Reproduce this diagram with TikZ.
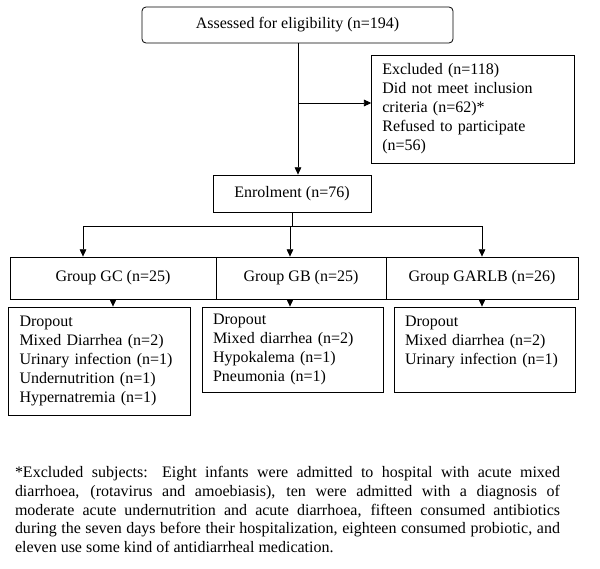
\documentclass[tikz,border=0pt]{standalone}
\usepackage{fontspec}
\setmainfont{Liberation Serif}
\usetikzlibrary{arrows.meta}
\begin{document}
\begin{tikzpicture}[x=0.75pt,y=-0.75pt,
	every node/.style={font=\fontsize{12pt}{14.25pt}\selectfont},
	box/.style={draw, line width=0.6pt, inner sep=0pt},
	listbox/.style={box, align=left, inner xsep=8pt},
	link/.style={line width=0.6pt, -{Triangle[length=5.5pt,width=5pt]}}]
\useasboundingbox (0,0) rectangle (600,568);

\node[box, rounded corners=3pt, minimum width=233.25pt, minimum height=27pt] (assess) at (297.5,25) {Assessed for eligibility (n=194)};
\node[listbox, text width=136pt, minimum height=81pt] (excl) at (473,109)
	{Excluded (n=118)\\Did not meet inclusion\\criteria (n=62)*\\Refused to participate\\(n=56)};
\node[box, minimum width=118.5pt, minimum height=27.75pt] (enrol) at (292,193.5) {Enrolment (n=76)};

\node[box, minimum width=154.5pt, minimum height=31.5pt] (gc) at (113,278) {Group GC (n=25)};
\node[box, minimum width=127.5pt, minimum height=31.5pt] (gb) at (301,278) {Group GB (n=25)};
\node[box, minimum width=144pt, minimum height=31.5pt] (garlb) at (482,278) {Group GARLB (n=26)};

\node[listbox, text width=120pt, minimum height=81pt] (drop1) at (99.5,361)
	{Dropout\\Mixed Diarrhea (n=2)\\Urinary infection (n=1)\\Undernutrition (n=1)\\Hypernatremia (n=1)};
\node[listbox, text width=120pt, minimum height=63.75pt] (drop2) at (293,349.5)
	{Dropout\\Mixed diarrhea (n=2)\\Hypokalema (n=1)\\Pneumonia (n=1)};
\node[listbox, text width=120pt, minimum height=63.75pt] (drop3) at (485,349.5)
	{Dropout\\Mixed diarrhea (n=2)\\Urinary infection (n=1)\\ \mbox{}};

\node[inner sep=0pt, text width=408.75pt, align=justify, font=\fontsize{12pt}{14pt}\selectfont] (note) at (287.5,509.5)
	{*Excluded subjects: Eight infants were admitted to hospital with acute mixed\linebreak
	diarrhoea, (rotavirus and amoebiasis), ten were admitted with a diagnosis of\linebreak
	moderate acute undernutrition and acute diarrhoea, fifteen consumed antibiotics\linebreak
	during the seven days before their hospitalization, eighteen consumed probiotic, and\linebreak
	eleven use some kind of antidiarrheal medication.};

% screening
\coordinate (split) at (298,103);
\draw[link] (assess.south -| split) -- (split |- enrol.north);
\draw[link] (split) -- (split -| excl.west);

% allocation
\coordinate (fork1) at (83,226);
\coordinate (fork2) at (290,226);
\coordinate (fork3) at (482,226);
\draw[line width=0.6pt] (enrol.south) -- (enrol.south |- fork1);
\draw[line width=0.6pt] (fork1) -- (fork3);
\draw[link] (fork1) -- (fork1 |- gc.north);
\draw[link] (fork2) -- (fork2 |- gb.north);
\draw[link] (fork3) -- (fork3 |- garlb.north);

% follow-up
\coordinate (out1) at (113,299);
\draw[link] (out1 |- gc.south) -- (out1 |- drop1.north);
\draw[link] (fork2 |- gb.south) -- (fork2 |- drop2.north);
\draw[link] (fork3 |- garlb.south) -- (fork3 |- drop3.north);
\end{tikzpicture}
\end{document}
